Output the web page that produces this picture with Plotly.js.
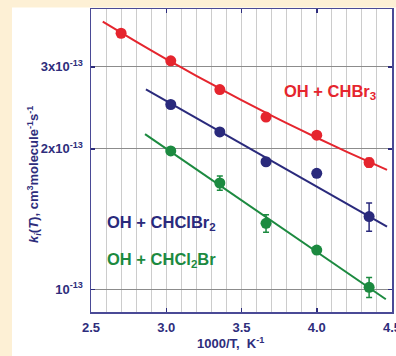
<!DOCTYPE html>
<html>
<head>
<meta charset="utf-8">
<script src="https://cdn.plot.ly/plotly-3.0.1.min.js"></script>
<style>html,body{margin:0;padding:0;background:#fdf0d5;overflow:hidden;}#chart{width:396px;height:356px;overflow:hidden;}</style>
</head>
<body>
<div id="chart"></div>
<script>
// 1000/T values (K^-1)
const invT = [2.70, 3.03, 3.356, 3.663, 4.00, 4.348];
const invTShort = [3.03, 3.356, 3.663, 4.00, 4.348];
// rate constants (cm3 molecule-1 s-1)
const kCHBr3 = [3.54e-13, 3.09e-13, 2.68e-13, 2.34e-13, 2.14e-13, 1.87e-13];
const errCHBr3 = [0, 0, 0, 0, 0, 0.04e-13];
const kCHClBr2 = [2.49e-13, 2.175e-13, 1.877e-13, 1.773e-13, 1.432e-13];
const errCHClBr2 = [0, 0, 0, 0, 0.10e-13];
const kCHCl2Br = [1.98e-13, 1.69e-13, 1.385e-13, 1.214e-13, 1.01e-13];
const errCHCl2Br = [0, 0.06e-13, 0.06e-13, 0, 0.05e-13];
// fit curves
const fitX_CHBr3 = [2.578, 2.8, 3.0, 3.2, 3.4, 3.6, 3.8, 4.0, 4.2, 4.467];
const fitK_CHBr3 = [3.747e-13, 3.395e-13, 3.117e-13, 2.869e-13, 2.647e-13, 2.448e-13, 2.272e-13, 2.113e-13, 1.971e-13, 1.804e-13];
const fitX_CHClBr2 = [2.865, 4.467];
const fitK_CHClBr2 = [2.684e-13, 1.362e-13];
const fitX_CHCl2Br = [2.859, 4.459];
const fitK_CHCl2Br = [2.152e-13, 0.952e-13];
// tick labels
const xTickVals = [2.5, 3.0, 3.5, 4.0, 4.5];
const xTickText = ['2.5', '3.0', '3.5', '4.0', '4.5'];
const yTickVals = [1e-13, 2e-13, 3e-13];
const yTickText = ['10<sup>-13</sup>', '2x10<sup>-13</sup>', '3x10<sup>-13</sup>'];
const seriesLabels = ['OH + CHBr<sub>3</sub>', 'OH + CHClBr<sub>2</sub>', 'OH + CHCl<sub>2</sub>Br'];

const RED = '#e5252e', BLUE = '#2a2a7c', GREEN = '#1c8a40', NAVY = '#2e2d7c', FRAME = '#4a4a96';
const FONT = 'Liberation Sans, Arial, sans-serif';

function pts(x, y, err, color, name) {
  return {x: x, y: y, type: 'scatter', mode: 'markers', name: name, showlegend: false,
    marker: {color: color, size: 11},
    error_y: {type: 'data', array: err, visible: true, color: color, thickness: 1.5, width: 3}};
}
function fit(x, y, color, name) {
  return {x: x, y: y, type: 'scatter', mode: 'lines', name: name, showlegend: false,
    line: {color: color, width: 2, shape: 'spline', smoothing: 0.6}};
}

const data = [
  fit(fitX_CHBr3, fitK_CHBr3, RED, 'fit CHBr3'),
  fit(fitX_CHClBr2, fitK_CHClBr2, BLUE, 'fit CHClBr2'),
  fit(fitX_CHCl2Br, fitK_CHCl2Br, GREEN, 'fit CHCl2Br'),
  pts(invT, kCHBr3, errCHBr3, RED, 'OH + CHBr3'),
  pts(invTShort, kCHClBr2, errCHClBr2, BLUE, 'OH + CHClBr2'),
  pts(invTShort, kCHCl2Br, errCHCl2Br, GREEN, 'OH + CHCl2Br')
];

const tickFont = {family: FONT, size: 13, color: NAVY, weight: 'bold'};
const layout = {
  width: 396, height: 356,
  margin: {l: 91, r: 4, t: 9, b: 44},
  paper_bgcolor: '#fdf0d5', plot_bgcolor: '#ffffff',
  font: {family: FONT, color: NAVY},
  xaxis: {
    range: [2.5, 4.5], tickvals: xTickVals, ticktext: xTickText,
    ticks: 'inside', ticklen: 4, tickwidth: 1.5, tickcolor: NAVY,
    showline: true, linecolor: FRAME, linewidth: 1.5, mirror: 'ticks',
    showgrid: true, gridcolor: '#cccccc', gridwidth: 1, zeroline: false,
    minor: {dtick: 0.1, tick0: 2.5, showgrid: true, gridcolor: '#cccccc', gridwidth: 1, ticks: ''},
    tickfont: tickFont, ticklabelstandoff: 3, ticklabeloverflow: 'allow'
  },
  yaxis: {
    type: 'log', range: [Math.log10(0.894e-13), Math.log10(3.99e-13)],
    tickvals: yTickVals, ticktext: yTickText,
    ticks: 'inside', ticklen: 4, tickwidth: 1.5, tickcolor: NAVY,
    showline: true, linecolor: FRAME, linewidth: 1.5, mirror: 'ticks',
    showgrid: true, gridcolor: '#8c8c8c', gridwidth: 1, zeroline: false,
    tickfont: tickFont, ticklabelstandoff: 4
  },
  shapes: [{type: 'rect', xref: 'paper', yref: 'paper', x0: -0.2625, x1: 1.1, y0: -0.3, y1: 1.005,
    fillcolor: '#ffffff', line: {width: 0}, layer: 'below'}],
  annotations: [
    {text: seriesLabels[0], xref: 'paper', yref: 'paper', x: 0.636, y: 0.727, xanchor: 'left', yanchor: 'middle',
      showarrow: false, font: {family: FONT, size: 16.5, color: RED, weight: 'bold'}},
    {text: seriesLabels[1], xref: 'paper', yref: 'paper', x: 0.046, y: 0.295, xanchor: 'left', yanchor: 'middle',
      showarrow: false, font: {family: FONT, size: 16.5, color: BLUE, weight: 'bold'}},
    {text: seriesLabels[2], xref: 'paper', yref: 'paper', x: 0.046, y: 0.170, xanchor: 'left', yanchor: 'middle',
      showarrow: false, font: {family: FONT, size: 16.5, color: GREEN, weight: 'bold'}},
    {text: '1000/T,  K<sup>-1</sup>', xref: 'paper', yref: 'paper', x: 0.462, y: -0.101, xanchor: 'center', yanchor: 'middle',
      showarrow: false, font: {family: FONT, size: 13, color: NAVY, weight: 'bold'}},
    {text: '<i>k</i><sub><i>i</i></sub>(<i>T</i>), cm<sup>3</sup>molecule<sup>-1</sup>s<sup>-1</sup>', xref: 'paper', yref: 'paper',
      x: -0.19, y: 0.455, xanchor: 'center', yanchor: 'middle', textangle: -90,
      showarrow: false, font: {family: FONT, size: 13, color: NAVY, weight: 'bold'}}
  ]
};

Plotly.newPlot('chart', data, layout, {displayModeBar: false, staticPlot: true});
</script>
</body>
</html>
